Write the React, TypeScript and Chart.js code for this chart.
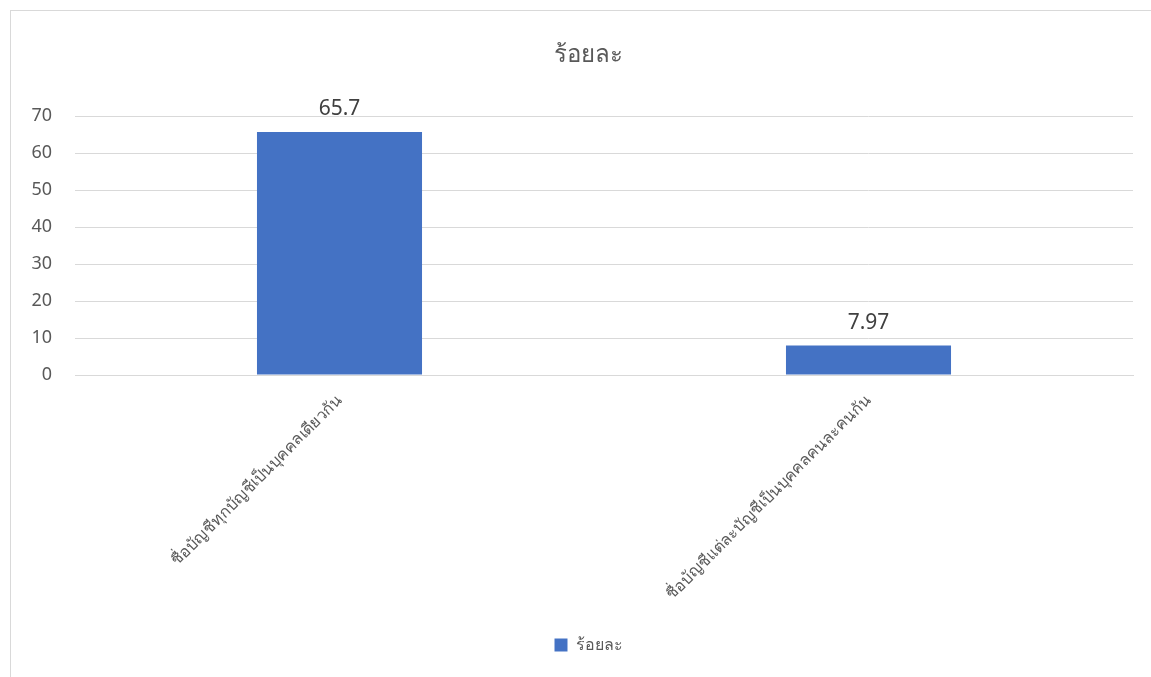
import React, { useEffect, useRef } from "react";
import { Chart, registerables } from "chart.js";

Chart.register(...registerables);

const categories: string[] = [
  "ชื่อบัญชีทุกบัญชีเป็นบุคคลเดียวกัน",
  "ชื่อบัญชีแต่ละบัญชีเป็นบุคคลคนละคนกัน",
];
const seriesName = "ร้อยละ";
const percentValues: number[] = [65.7, 7.97];
const yTicks: number[] = [0, 10, 20, 30, 40, 50, 60, 70];

const FONT = "'Noto Sans', 'Open Sans', sans-serif";
const BAR_COLOR = "#4472C4";
const TEXT_COLOR = "#595959";
const GRID_COLOR = "#d9d9d9";

// Writes each bar's value just above it
const valueLabels = {
  id: "valueLabels",
  afterDatasetsDraw(chart: any) {
    const ctx = chart.ctx;
    const meta = chart.getDatasetMeta(0);
    const data = chart.data.datasets[0].data as number[];
    ctx.save();
    ctx.font = `21px ${FONT}`;
    ctx.fillStyle = "#404040";
    ctx.textAlign = "center";
    ctx.textBaseline = "bottom";
    meta.data.forEach((bar: any, i: number) => {
      ctx.fillText(String(data[i]), bar.x, bar.y - 12);
    });
    ctx.restore();
  },
};

// Lets the y tick labels extend into the left padding without being clipped
const widenYLabelArea = {
  id: "widenYLabelArea",
  afterLayout(chart: any) {
    const y = chart.scales.y;
    if (y) y.left = 0;
  },
};

export default function App() {
  const canvasRef = useRef<HTMLCanvasElement | null>(null);

  useEffect(() => {
    if (!canvasRef.current) return;
    const chart = new Chart(canvasRef.current, {
      type: "bar",
      data: {
        labels: categories,
        datasets: [
          {
            label: seriesName,
            data: percentValues,
            backgroundColor: BAR_COLOR,
            borderWidth: 0,
            barPercentage: 0.312,
            categoryPercentage: 1,
          },
        ],
      },
      options: {
        animation: false,
        responsive: false,
        maintainAspectRatio: false,
        layout: { padding: { left: 44, right: 18, top: 0, bottom: 14 } },
        plugins: {
          title: {
            display: true,
            text: seriesName,
            color: TEXT_COLOR,
            font: { family: FONT, size: 24, weight: "normal" },
            padding: { top: 40.6, bottom: 46.6 },
          },
          legend: {
            position: "bottom",
            labels: {
              color: TEXT_COLOR,
              font: { family: FONT, size: 16 },
              boxWidth: 13,
              boxHeight: 13,
              padding: 10,
            },
          },
          tooltip: { enabled: false },
        },
        scales: {
          x: {
            grid: { display: false, drawTicks: false },
            border: { color: GRID_COLOR, width: 1 },
            ticks: {
              color: TEXT_COLOR,
              font: { family: FONT, size: 16 },
              minRotation: 45,
              maxRotation: 45,
              padding: 16,
              autoSkip: false,
            },
            afterFit(scale: any) {
              scale.height = 252;
            },
          },
          y: {
            min: 0,
            max: 70,
            afterBuildTicks(scale: any) {
              scale.ticks = yTicks.map((v) => ({ value: v }));
            },
            grid: { color: GRID_COLOR, lineWidth: 1, drawTicks: false },
            border: { display: false },
            ticks: {
              color: TEXT_COLOR,
              font: { family: FONT, size: 18 },
              padding: 23,
            },
            afterFit(scale: any) {
              scale.width = 31;
            },
          },
        },
      },
      plugins: [valueLabels, widenYLabelArea],
    });
    return () => chart.destroy();
  }, []);

  return (
    <div
      style={{
        position: "fixed",
        left: 0,
        top: 0,
        width: 1151,
        height: 677,
        overflow: "hidden",
        background: "#ffffff",
      }}
    >
      <div
        style={{
          position: "absolute",
          left: 10,
          top: 10,
          width: 1200,
          height: 720,
          border: `1px solid ${GRID_COLOR}`,
        }}
      />
      <canvas
        ref={canvasRef}
        width={1151}
        height={677}
        style={{ position: "absolute", left: 0, top: 0, width: 1151, height: 677 }}
      />
    </div>
  );
}
